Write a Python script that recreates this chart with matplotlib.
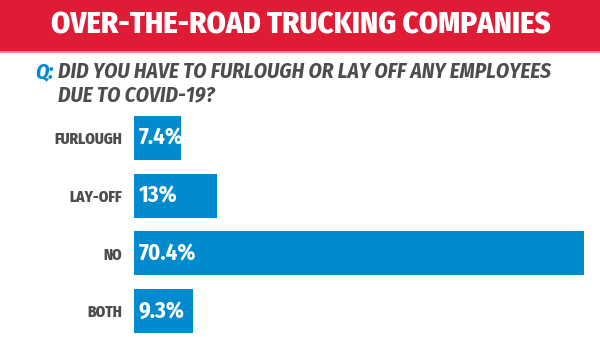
import matplotlib
matplotlib.use('Agg')
import matplotlib.pyplot as plt
from matplotlib.patches import Rectangle

categories = ['FURLOUGH', 'LAY-OFF', 'NO', 'BOTH']
values = [7.4, 13, 70.4, 9.3]
value_labels = ['7.4%', '13%', '70.4%', '9.3%']

title = 'OVER-THE-ROAD TRUCKING COMPANIES'
question = ['DID YOU HAVE TO FURLOUGH OR LAY OFF ANY EMPLOYEES', 'DUE TO COVID-19?']

W, H = 600, 337
narrow = ['Fira Sans Condensed', 'DejaVu Sans']
red = '#DF1B36'
blue = '#008BCE'
gray = '#4D4D4F'

fig = plt.figure(figsize=(6, 3.37), dpi=100)
fig.patch.set_facecolor('white')

# red header band
fig.patches.append(Rectangle((0, 1 - 51 / H), 1, 51 / H, transform=fig.transFigure,
                             facecolor=red, edgecolor='none', zorder=0))
fig.patches.append(Rectangle((0, 1 - 52.5 / H), 1, 1.5 / H, transform=fig.transFigure,
                             facecolor='#EE8A98', edgecolor='none', zorder=0))
fig.text(301 / W, 1 - 25 / H, title, color='white', family=narrow, weight='heavy',
         fontsize=22, ha='center', va='center')

# question
fig.text(35 / W, 1 - 72 / H, 'Q:', color=blue, family=narrow, weight='bold',
         style='italic', fontsize=15.5, ha='left', va='center')
for i, line in enumerate(question):
    fig.text(58 / W, 1 - (72 + 23 * i) / H, line, color=gray, family=narrow,
             weight='bold', style='italic', fontsize=15.3, ha='left', va='center')

# bars
ax = fig.add_axes([134 / W, 0, 450 / W, 1 - 110 / H])
pos = list(range(len(categories)))
ax.barh(pos, values, height=0.763, color=blue)
ax.set_xlim(0, max(values))
ax.set_ylim(3.448, -0.486)
for p, v, lab in zip(pos, values, value_labels):
    ax.text(0.7, p, lab, color='white', family=narrow, weight='bold',
            fontsize=16.5, ha='left', va='center')
ax.set_yticks(pos)
ax.set_yticklabels(categories, family=narrow, weight='heavy', fontsize=11, color=gray)
ax.tick_params(axis='y', length=0, pad=8.5)
ax.set_xticks([])
for s in ax.spines.values():
    s.set_visible(False)

fig.savefig('out.png', dpi=100)
